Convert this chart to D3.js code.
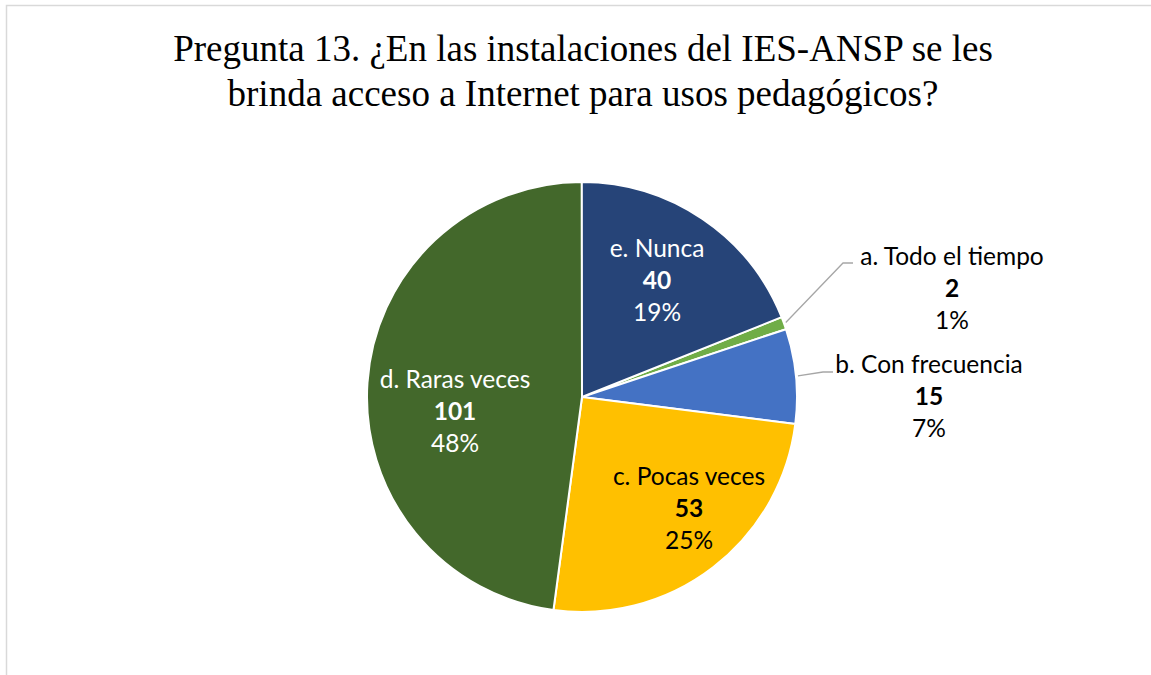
<!DOCTYPE html>
<html>
<head>
<meta charset="utf-8">
<script src="https://cdn.jsdelivr.net/npm/d3@7"></script>
<style>
  body { margin: 0; background: #fff; }
  svg { display: block; }
</style>
</head>
<body>
<div id="chart"></div>
<script>
// data
var categories = ["a. Todo el tiempo", "b. Con frecuencia", "c. Pocas veces", "d. Raras veces", "e. Nunca"]
var counts = [2, 15, 53, 101, 40]
var percents = ["1%", "7%", "25%", "48%", "19%"]
var colors = ["#70AD47", "#4472C4", "#FFC000", "#43682B", "#264478"]
var titleLines = ["Pregunta 13. ¿En las instalaciones del IES-ANSP se les", "brinda acceso a Internet para usos pedagógicos?"]

// layout
var width = 1151, height = 675
var cx = 582, cy = 397, radius = 215
var firstSliceAngle = 68.2  // degrees, like excel "angle of first slice"

// where each data label sits (excel "best fit" spots), outside ones get a leader line
var labelCfg = [
  {x: 952, y: 265, leader: [[843, 263], [853, 263]], color: "#000"},
  {x: 929, y: 373, leader: [[823, 372], [833, 372]], color: "#000"},
  {x: 689, y: 485, color: "#000"},
  {x: 455, y: 388, color: "#fff"},
  {x: 657, y: 257, color: "#fff"}
]

var data = categories.map(function(c, i) {
  return {label: c, value: counts[i], pct: percents[i], color: colors[i], cfg: labelCfg[i]}
})

var svg = d3.select("#chart").append("svg")
  .attr("width", width)
  .attr("height", height)

// chart area border
svg.append("rect")
  .attr("x", 6.5).attr("y", 5.5)
  .attr("width", width + 20).attr("height", height + 20)
  .attr("fill", "#fff")
  .attr("stroke", "#d9d9d9")
  .attr("stroke-width", 1.5)

// title
svg.append("g").selectAll("text")
  .data(titleLines)
  .enter().append("text")
  .attr("x", 583)
  .attr("y", function(d, i) { return 61 + i * 45 })
  .attr("text-anchor", "middle")
  .style("font-family", "'Liberation Serif', 'Times New Roman', serif")
  .style("font-size", "37px")
  .attr("fill", "#000")
  .text(function(d) { return d })

var pie = d3.pie()
  .sort(null)
  .value(function(d) { return d.value })
  .startAngle(firstSliceAngle * Math.PI / 180)
  .endAngle(firstSliceAngle * Math.PI / 180 + 2 * Math.PI)

var arc = d3.arc().innerRadius(0).outerRadius(radius)
var arcs = pie(data)

var g = svg.append("g").attr("transform", "translate(" + cx + "," + cy + ")")

g.selectAll("path")
  .data(arcs)
  .enter().append("path")
  .attr("d", arc)
  .attr("fill", function(d) { return d.data.color })
  .attr("stroke", "#fff")
  .attr("stroke-width", 2)
  .attr("stroke-linejoin", "round")

// leader lines for outside labels
arcs.forEach(function(a) {
  var cfg = a.data.cfg
  if (!cfg.leader) return
  var mid = (a.startAngle + a.endAngle) / 2
  var p0 = [cx + Math.sin(mid) * (radius + 2), cy - Math.cos(mid) * (radius + 2)]
  svg.append("polyline")
    .attr("points", [p0].concat(cfg.leader).map(function(p) { return p.join(",") }).join(" "))
    .attr("fill", "none")
    .attr("stroke", "#a6a6a6")
    .attr("stroke-width", 1.3)
})

// labels
arcs.forEach(function(a) {
  var cfg = a.data.cfg
  var t = svg.append("text")
    .attr("x", cfg.x).attr("y", cfg.y)
    .attr("text-anchor", "middle")
    .style("font-family", "Lato, 'Open Sans', sans-serif")
    .style("font-size", "24.5px")
    .attr("fill", cfg.color)
  t.append("tspan").attr("x", cfg.x).text(a.data.label)
  t.append("tspan").attr("x", cfg.x).attr("dy", 32).style("font-weight", "bold").text(a.data.value)
  t.append("tspan").attr("x", cfg.x).attr("dy", 31.5).text(a.data.pct)
})
</script>
</body>
</html>
